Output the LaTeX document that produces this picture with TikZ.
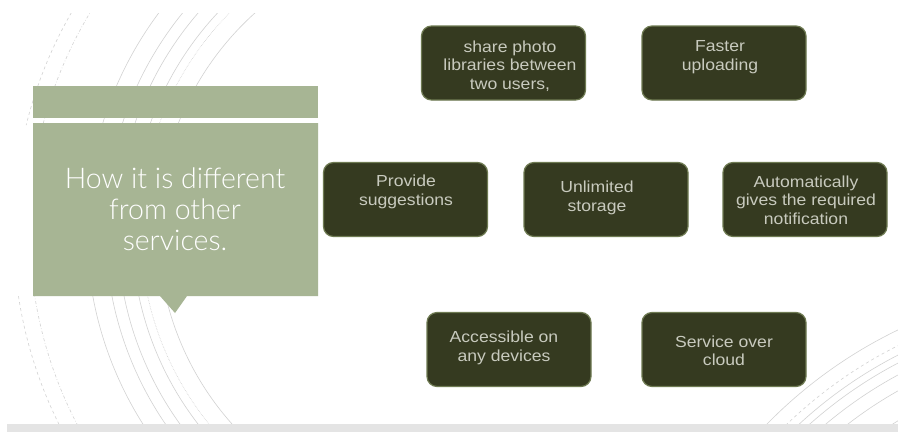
\documentclass[tikz,border=0pt]{standalone}
\usepackage{fontspec}
\usepackage{tikz}
\usetikzlibrary{positioning}
\setmainfont{Liberation Sans}
\newfontfamily\tilefont{Liberation Sans}[FakeStretch=1.1]
\newfontfamily\headfont{Lato Light}

\definecolor{sage}{HTML}{A7B594}
\definecolor{tilefill}{HTML}{353A20}
\definecolor{tileedge}{HTML}{6E7A52}
\definecolor{tileink}{HTML}{C8CABE}
\definecolor{band}{HTML}{E4E4E4}
\definecolor{wisp}{HTML}{D2D2D2}

\begin{document}
\begin{tikzpicture}[x=1pt, y=-1pt,
    wispline/.style = {draw=wisp, line width=0.6pt},
    tile/.style = {shape=rectangle, rounded corners=10pt,
      fill=tilefill, draw=tileedge, line width=1.2pt,
      minimum width=164pt, minimum height=74pt},
    tiletext/.style = {align=center, text=tileink,
      font=\tilefont\fontsize{16}{18.5}\selectfont},
    headtext/.style = {align=center, text=white,
      font=\headfont\fontsize{28.5}{31}\selectfont}]
  \useasboundingbox (0,0) rectangle (898,432);
  \fill[white] (0,0) rectangle (898,432);

  \begin{scope}
    \clip (8,13) rectangle (330,125) (8,296) rectangle (330,424);
    \foreach \r/\d in {436.5/dashed, 420.4/dash dot, 363.2/solid, 344.4/solid,
                       332.5/solid, 318/solid, 309.4/densely dotted, 291.8/solid}
      \draw[wispline, \d] (450,230) circle[radius=\r];
  \end{scope}
  \begin{scope}
    \clip (700,250) rectangle (898,424);
    \foreach \r/\d in {466/solid, 451.9/dashed, 443.5/solid, 436.4/solid,
                       425.9/solid, 412/solid, 386.2/solid}
      \draw[wispline, \d] (1100,750) circle[radius=\r];
  \end{scope}
  \fill[band] (7,424) rectangle (898,432);

  \fill[sage] (33,86) rectangle (318,118);
  \fill[sage] (33,123) rectangle (318,296)
    -- (187,296) -- (175,313) -- (160,296) -- cycle;
  \node[headtext] (head) at (175,209) {How it is different\\from other\\services.};

  \node[tile] (share)  at (503.5,63) {};
  \node[tile] (faster) at (724,63) {};
  \node[tile] (provide) at (405.5,199.5) {};
  \node[tile] (storage) at (606,199.5) {};
  \node[tile] (notify)  at (805,199.5) {};
  \node[tile] (access)  at (509,349.5) {};
  \node[tile] (cloud)   at (724,349.5) {};

  \node[tiletext] (sharetxt)   at ([shift={(6.5,3)}]share.center) {share photo\\libraries between\\two users,};
  \node[tiletext] (fastertxt)  at ([shift={(-4,-6)}]faster.center) {Faster\\uploading};
  \node[tiletext] (providetxt) at ([shift={(0.5,-7.5)}]provide.center) {Provide\\suggestions};
  \node[tiletext] (storagetxt) at ([shift={(-9,-1.5)}]storage.center) {Unlimited\\storage};
  \node[tiletext] (notifytxt)  at ([shift={(1,0.5)}]notify.center) {Automatically\\gives the required\\notification};
  \node[tiletext] (accesstxt)  at ([shift={(-5,-1.5)}]access.center) {Accessible on\\any devices};
  \node[tiletext] (cloudtxt)   at ([shift={(0,1.5)}]cloud.center) {Service over\\cloud};
\end{tikzpicture}
\end{document}
